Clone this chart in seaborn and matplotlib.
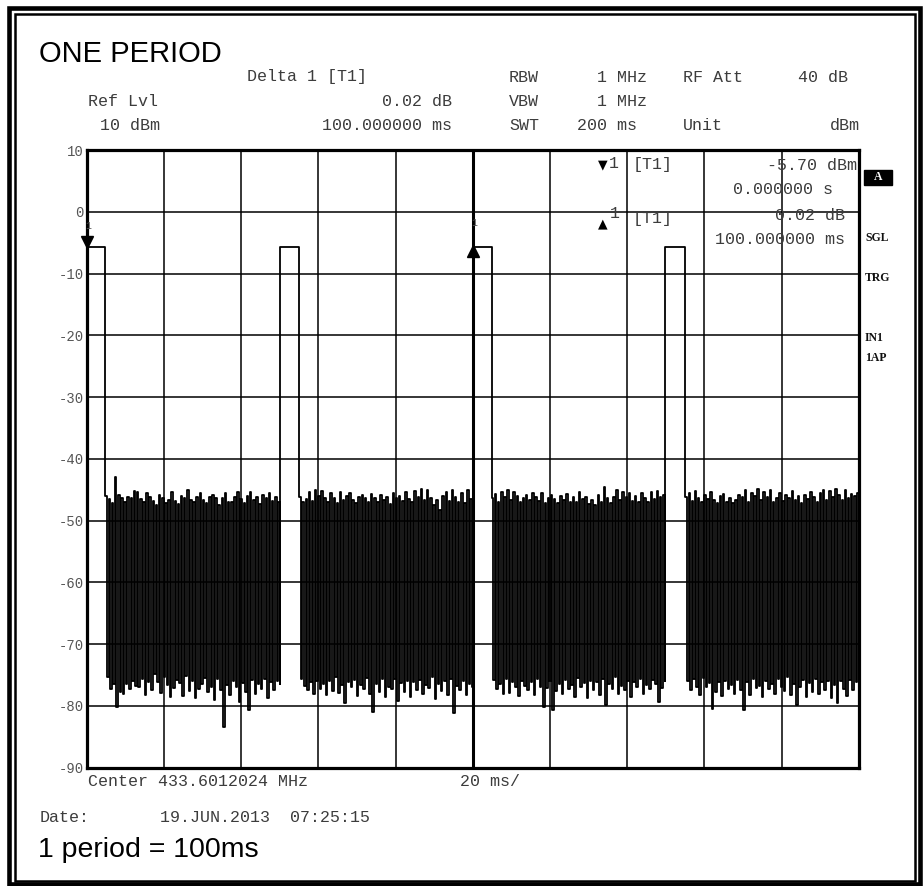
import numpy as np
import pandas as pd
import matplotlib
matplotlib.use("Agg")
import matplotlib.pyplot as plt
import matplotlib.transforms as mtransforms
from matplotlib.patches import Rectangle
import seaborn as sns

# zero span sweep, 200 ms, levels in dBm
pulse_level = -5.7
pulse_start = [0.0, 50.2, 100.0, 149.9]
pulse_end = [4.75, 55.0, 104.8, 155.0]
pulse2_kink = -16.6

seg1_hi = [-46.0, -46.5, -47.2, -43.0, -45.8, -46.3, -47.0, -46.1,
           -46.4, -45.2, -45.3, -46.5, -46.9, -45.6, -46.2, -46.8,
           -47.4, -45.9, -46.3, -47.1, -46.6, -45.4, -46.8, -47.3,
           -46.0, -46.4, -45.1, -46.7, -47.0, -46.2, -45.5, -46.6,
           -47.2, -46.1, -45.9, -46.3, -47.5, -46.4, -45.6, -46.9,
           -47.0, -46.2, -45.3, -46.5, -47.1, -46.0, -45.4, -46.7,
           -46.1, -47.3, -45.8, -46.4, -45.5, -46.8, -46.2, -46.9]
seg1_lo = [-75.3, -77.2, -76.4, -80.2, -77.8, -78.1, -76.5, -77.3,
           -75.9, -76.8, -77.0, -75.6, -78.3, -76.2, -77.5, -74.8,
           -76.1, -77.9, -75.4, -76.7, -78.6, -77.1, -75.8, -76.3,
           -78.4, -75.2, -77.6, -76.0, -78.8, -77.2, -76.4, -75.5,
           -77.8, -76.9, -79.1, -75.7, -77.4, -83.5, -76.6, -78.2,
           -75.9, -77.0, -79.3, -76.3, -77.7, -80.6, -75.8, -78.0,
           -76.5, -77.3, -75.6, -78.7, -76.2, -77.5, -75.9, -76.4]
seg2_hi = [-46.2, -47.0, -46.5, -45.3, -46.8, -45.1, -46.0, -45.2,
           -46.4, -46.9, -45.6, -46.3, -47.1, -45.4, -46.7, -46.0,
           -45.5, -46.6, -47.2, -46.1, -45.8, -46.4, -46.9, -45.7,
           -46.3, -47.0, -45.9, -46.6, -46.2, -47.3, -45.6, -46.4,
           -46.0, -46.8, -45.3, -46.5, -47.0, -45.2, -46.1, -44.9,
           -46.7, -45.0, -46.3, -47.4, -46.6, -48.2, -46.0, -45.4,
           -46.8, -45.1, -46.2, -46.9, -45.6, -47.1, -45.0, -46.5]
seg2_lo = [-75.6, -76.8, -77.4, -76.1, -78.0, -75.9, -77.2, -76.5,
           -78.3, -76.0, -77.6, -75.4, -77.9, -76.7, -79.6, -76.2,
           -77.0, -75.8, -78.4, -76.6, -77.3, -75.5, -78.1, -81.0,
           -76.4, -77.7, -75.7, -78.5, -76.9, -77.2, -75.6, -79.2,
           -76.3, -77.8, -75.9, -78.6, -76.1, -77.4, -75.8, -78.0,
           -76.7, -77.1, -75.3, -78.9, -76.5, -77.6, -76.0, -78.2,
           -75.7, -81.2, -76.8, -77.5, -75.9, -78.3, -76.4, -77.0]
seg3_hi = [-46.3, -45.7, -46.9, -45.4, -46.1, -45.0, -46.6, -45.3,
           -46.0, -47.0, -46.4, -45.8, -46.7, -45.5, -46.2, -46.8,
           -45.6, -47.1, -46.3, -45.9, -46.5, -47.2, -46.0, -46.6,
           -45.7, -46.9, -46.2, -47.0, -45.4, -46.5, -46.1, -47.3,
           -46.6, -47.5, -45.8, -46.9, -44.6, -46.4, -47.1, -46.2,
           -45.0, -46.7, -45.3, -46.1, -45.5, -46.8, -46.0, -47.0,
           -45.6, -46.3, -46.9, -45.4, -46.5, -45.2, -46.1, -45.8]
seg3_lo = [-75.8, -77.3, -76.5, -78.1, -75.7, -77.9, -76.2, -77.0,
           -78.4, -75.9, -76.8, -77.5, -76.1, -78.2, -75.6, -76.9,
           -80.2, -77.1, -76.0, -80.6, -77.6, -76.4, -78.0, -75.8,
           -77.3, -76.6, -78.5, -75.5, -77.0, -76.3, -78.8, -75.9,
           -77.4, -76.1, -78.3, -75.7, -79.9, -76.5, -77.2, -75.4,
           -78.0, -76.8, -77.5, -75.9, -78.6, -76.2, -77.0, -75.6,
           -78.1, -76.7, -77.3, -75.8, -76.4, -79.3, -77.1, -76.0]
seg4_hi = [-46.1, -45.6, -46.8, -45.2, -46.4, -47.0, -45.9, -46.5,
           -45.3, -46.7, -47.1, -46.0, -45.7, -46.9, -46.3, -47.2,
           -46.6, -45.8, -46.2, -45.1, -46.9, -45.5, -46.0, -44.8,
           -46.6, -45.4, -46.1, -45.0, -47.0, -46.4, -45.6, -46.8,
           -45.9, -46.3, -45.2, -46.7, -46.0, -47.1, -45.8, -46.5,
           -45.3, -46.2, -47.0, -45.5, -45.0, -46.6, -45.2, -46.1,
           -44.8, -45.9, -46.7, -45.1, -46.3, -45.7, -46.0, -45.6]
seg4_lo = [-76.0, -77.4, -75.7, -76.9, -78.2, -75.5, -77.0, -76.3,
           -80.5, -77.8, -76.1, -78.4, -75.9, -77.2, -76.6, -78.0,
           -75.8, -77.5, -80.7, -76.2, -78.3, -75.6, -77.1, -76.8,
           -78.6, -75.9, -77.3, -76.4, -78.1, -75.7, -76.9, -77.6,
           -75.4, -78.2, -76.5, -79.8, -77.0, -75.8, -78.5, -76.3,
           -77.7, -75.6, -78.0, -76.1, -77.4, -75.9, -78.7, -76.6,
           -79.6, -76.0, -77.2, -78.4, -75.8, -77.5, -76.2, -82.0]

marker_t = [0.0, 100.0]
marker_level = [-5.70, -5.68]

y_ticks = list(range(10, -91, -10))
x_ticks = list(range(0, 201, 20))

# --- build the trace ---
noise_hi = [seg1_hi, seg2_hi, seg3_hi, seg4_hi]
noise_lo = [seg1_lo, seg2_lo, seg3_lo, seg4_lo]
t_all, v_all = [], []
for i in range(4):
    if i == 1:
        t_all.append(pulse_start[i] - 0.1)
        v_all.append(pulse2_kink)
    t_all += [pulse_start[i], pulse_end[i]]
    v_all += [pulse_level, pulse_level]
    seg = np.empty(2 * len(noise_hi[i]))
    seg[0::2] = noise_hi[i]
    seg[1::2] = noise_lo[i]
    stop = pulse_start[i + 1] - 0.2 if i < 3 else 200.0
    t_all += list(np.linspace(pulse_end[i] + 0.1, stop, len(seg)))
    v_all += list(seg)
trace = pd.DataFrame({"time_ms": t_all, "level_dbm": v_all})

sns.set_style("white")
plt.rcParams["font.family"] = ["Liberation Mono", "DejaVu Sans"]

W, H = 923, 886
fig = plt.figure(figsize=(W / 100, H / 100), dpi=100)
ax = fig.add_axes([86.7 / W, 1 - 767.6 / H, 772 / W, 617.4 / H])

sns.lineplot(data=trace, x="time_ms", y="level_dbm", sort=False, estimator=None,
             color="black", lw=1.3, drawstyle="steps-post", ax=ax)
ax.axvline(100, color="black", lw=2.2, zorder=1)

ax.set_xlim(0, 200)
ax.set_ylim(-90, 10)
ax.set_xticks(x_ticks)
ax.set_xticklabels([])
ax.set_yticks(y_ticks)
ax.set_yticklabels([str(v) for v in y_ticks], family="Liberation Mono",
                   fontsize=10, color="#555555")
ax.tick_params(length=0, pad=2)
ax.grid(True, color="black", lw=1.1)
ax.set_xlabel("")
ax.set_ylabel("")
for sp in ax.spines.values():
    sp.set_visible(True)
    sp.set_color("black")
    sp.set_linewidth(2.3)

# marker symbols
down = mtransforms.offset_copy(ax.transData, fig=fig, y=5, units="dots")
up = mtransforms.offset_copy(ax.transData, fig=fig, y=-4, units="dots")
ax.plot(marker_t[0], marker_level[0], marker="v", color="black", ms=8,
        transform=down, clip_on=False, zorder=5)
ax.plot(marker_t[1], marker_level[1], marker="^", color="black", ms=8,
        transform=up, clip_on=False, zorder=5)
for t, lv, dy in zip(marker_t, marker_level, [15, 17]):
    ax.annotate("1", xy=(t, lv), xytext=(1, dy), textcoords="offset points",
                ha="center", va="center", fontsize=7, color="#555555",
                family="Liberation Mono")


def ftext(x, y, s, **kw):
    fig.text(x / W, 1 - y / H, s, **kw)


mono = dict(family="Liberation Mono", fontsize=12, color="#3c3c3c", va="center")
sans = dict(family="Liberation Sans", fontsize=21, color="black", va="baseline")
serif = dict(family="Liberation Serif", fontsize=8.5, weight="bold", color="#111111",
             va="center")

ftext(39, 62, "ONE PERIOD", **sans)
ftext(247, 77, "Delta 1 [T1]", **mono)
ftext(88, 101, "Ref Lvl", **mono)
ftext(452, 101, "0.02 dB", ha="right", **mono)
ftext(100, 126, "10 dBm", **mono)
ftext(452, 126, "100.000000 ms", ha="right", **mono)
ftext(509, 77, "RBW", **mono)
ftext(647, 77, "1 MHz", ha="right", **mono)
ftext(683, 77, "RF Att", **mono)
ftext(848, 77, "40 dB", ha="right", **mono)
ftext(509, 101, "VBW", **mono)
ftext(647, 101, "1 MHz", ha="right", **mono)
ftext(509, 126, "SWT", **mono)
ftext(637, 126, "200 ms", ha="right", **mono)
ftext(683, 126, "Unit", **mono)
ftext(860, 126, "dBm", ha="right", **mono)

# marker info
ftext(603, 165, "\u25bc", family="DejaVu Sans", fontsize=9, color="black",
      ha="center", va="center")
ftext(609, 164, "1", **mono)
ftext(633, 165, "[T1]", **mono)
ftext(857, 165, "-5.70 dBm", ha="right", **mono)
ftext(833, 190, "0.000000 s", ha="right", **mono)
ftext(603, 224, "\u25b2", family="DejaVu Sans", fontsize=9, color="black",
      ha="center", va="center")
ftext(610, 214, "1", **mono)
ftext(633, 218, "[T1]", **mono)
ftext(845, 216, "0.02 dB", ha="right", **mono)
ftext(845, 239, "100.000000 ms", ha="right", **mono)

# side labels
fig.add_artist(Rectangle((864 / W, 1 - 185 / H), 28 / W, 15 / H,
                         transform=fig.transFigure, color="black"))
ftext(878, 177.5, "A", ha="center", family="Liberation Serif", fontsize=8.5,
      weight="bold", color="white", va="center")
ftext(865, 238, "SGL", **serif)
ftext(865, 278, "TRG", **serif)
ftext(865, 338, "IN1", **serif)
ftext(865, 358, "1AP", **serif)

# footer
ftext(88, 782, "Center 433.6012024 MHz", **mono)
ftext(460, 782, "20 ms/", **mono)
ftext(40, 817, "Date:", **mono)
ftext(160, 817, "19.JUN.2013  07:25:15", **mono)
ftext(38, 857, "1 period = 100ms", **dict(sans, fontsize=20.5))

# double frame
fig.add_artist(Rectangle((9 / W, 1 - 884 / H), 911 / W, 876 / H,
                         transform=fig.transFigure, fill=False, ec="black", lw=3.3))
fig.add_artist(Rectangle((14.7 / W, 1 - 880.5 / H), 900.3 / W, 866.8 / H,
                         transform=fig.transFigure, fill=False, ec="black", lw=1.8))

fig.savefig("out.png", dpi=100, facecolor="white")
